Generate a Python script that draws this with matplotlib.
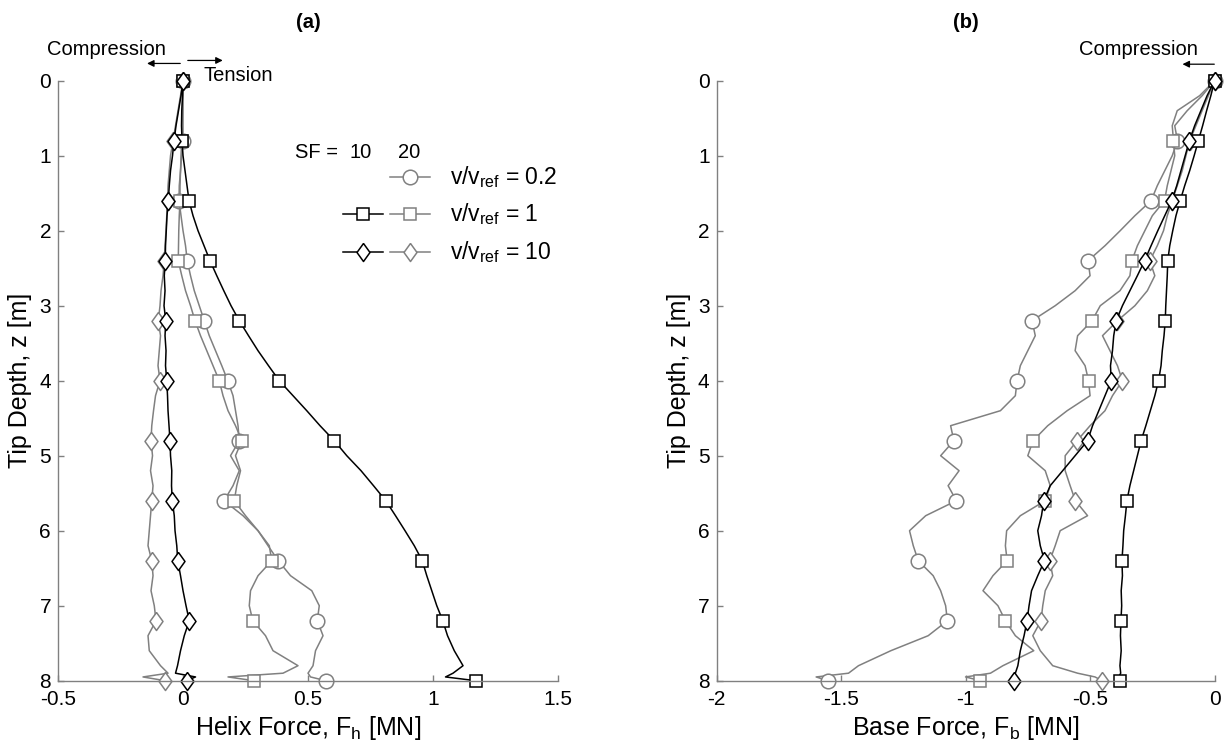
import numpy as np
import matplotlib
matplotlib.use("Agg")
import matplotlib.pyplot as plt

plt.rcParams["font.family"] = ["Liberation Sans", "DejaVu Sans"]
plt.rcParams["mathtext.fontset"] = "custom"
plt.rcParams["mathtext.rm"] = "Liberation Sans"
plt.rcParams["mathtext.it"] = "Liberation Sans:italic"
plt.rcParams["axes.unicode_minus"] = False

# tip depth grid [m] (finer at the very end of installation)
depth = np.concatenate([np.round(np.arange(0, 7.81, 0.2), 2), [7.9, 7.95, 8.0]])
mark_idx = list(range(0, 40, 4)) + [42]

# (a) helix force [MN]
a_sf10_v1 = [0.000, -0.002, -0.005, -0.006, -0.004, 0.000, 0.008, 0.016, 0.024, 0.040,
             0.060, 0.084, 0.108, 0.135, 0.163, 0.192, 0.225, 0.262, 0.300, 0.342,
             0.385, 0.440, 0.495, 0.548, 0.605, 0.655, 0.712, 0.762, 0.811, 0.850,
             0.888, 0.925, 0.957, 0.975, 0.995, 1.015, 1.039, 1.058, 1.085, 1.120,
             1.080, 1.050, 1.171]
a_sf10_v10 = [0.000, -0.008, -0.018, -0.028, -0.036, -0.042, -0.050, -0.055, -0.059, -0.064,
              -0.067, -0.070, -0.071, -0.075, -0.072, -0.076, -0.069, -0.072, -0.068, -0.070,
              -0.065, -0.062, -0.060, -0.056, -0.052, -0.050, -0.045, -0.046, -0.043, -0.035,
              -0.032, -0.025, -0.021, -0.010, 0.000, 0.012, 0.025, 0.005, -0.010, -0.022,
              -0.030, 0.050, 0.015]
a_sf20_v02 = [0.000, 0.000, 0.000, 0.000, 0.000, -0.005, -0.010, -0.015, -0.016, -0.008,
              0.000, 0.010, 0.017, 0.030, 0.045, 0.065, 0.085, 0.105, 0.130, 0.155,
              0.179, 0.200, 0.210, 0.220, 0.225, 0.190, 0.225, 0.200, 0.164, 0.240,
              0.300, 0.340, 0.381, 0.430, 0.515, 0.545, 0.537, 0.560, 0.530, 0.520,
              0.500, 0.510, 0.571]
a_sf20_v1 = [0.000, 0.000, -0.002, -0.004, -0.005, -0.008, -0.010, -0.012, -0.012, -0.015,
             -0.017, -0.018, -0.019, -0.005, 0.010, 0.030, 0.048, 0.070, 0.095, 0.120,
             0.145, 0.160, 0.180, 0.210, 0.235, 0.210, 0.230, 0.215, 0.205, 0.250,
             0.300, 0.345, 0.355, 0.300, 0.270, 0.265, 0.279, 0.330, 0.360, 0.460,
             0.400, 0.180, 0.284]
a_sf20_v10 = [0.000, -0.010, -0.020, -0.030, -0.040, -0.050, -0.055, -0.060, -0.062, -0.065,
              -0.068, -0.072, -0.075, -0.080, -0.088, -0.092, -0.099, -0.090, -0.095, -0.100,
              -0.092, -0.110, -0.118, -0.125, -0.128, -0.122, -0.130, -0.120, -0.125, -0.130,
              -0.135, -0.140, -0.125, -0.120, -0.128, -0.115, -0.108, -0.140, -0.135, -0.090,
              -0.060, -0.160, -0.072]

# (b) base force [MN]
b_sf10_v1 = [0.000, -0.015, -0.032, -0.048, -0.065, -0.082, -0.100, -0.120, -0.138, -0.155,
             -0.168, -0.180, -0.188, -0.190, -0.193, -0.196, -0.198, -0.203, -0.210, -0.215,
             -0.225, -0.240, -0.258, -0.276, -0.295, -0.310, -0.325, -0.340, -0.352, -0.358,
             -0.365, -0.368, -0.372, -0.370, -0.375, -0.373, -0.376, -0.378, -0.375, -0.380,
             -0.377, -0.385, -0.379]
b_sf10_v10 = [0.000, -0.030, -0.055, -0.080, -0.101, -0.118, -0.135, -0.152, -0.172, -0.200,
              -0.228, -0.255, -0.281, -0.310, -0.340, -0.370, -0.395, -0.405, -0.410, -0.418,
              -0.415, -0.440, -0.465, -0.490, -0.510, -0.560, -0.610, -0.660, -0.686, -0.695,
              -0.710, -0.700, -0.683, -0.710, -0.735, -0.745, -0.753, -0.765, -0.780, -0.790,
              -0.800, -0.815, -0.804]
b_sf20_v02 = [0.000, -0.050, -0.110, -0.160, -0.149, -0.170, -0.200, -0.230, -0.255, -0.320,
              -0.379, -0.440, -0.508, -0.500, -0.560, -0.640, -0.733, -0.720, -0.750, -0.780,
              -0.793, -0.800, -0.860, -1.060, -1.047, -1.100, -1.026, -1.070, -1.037, -1.160,
              -1.225, -1.210, -1.190, -1.130, -1.100, -1.080, -1.073, -1.150, -1.300, -1.430,
              -1.470, -1.600, -1.554]
b_sf20_v1 = [0.000, -0.060, -0.150, -0.170, -0.165, -0.160, -0.175, -0.190, -0.201, -0.250,
             -0.280, -0.310, -0.332, -0.340, -0.380, -0.459, -0.492, -0.550, -0.560, -0.520,
             -0.506, -0.500, -0.592, -0.670, -0.729, -0.750, -0.680, -0.660, -0.680, -0.780,
             -0.835, -0.840, -0.833, -0.890, -0.930, -0.870, -0.840, -0.800, -0.726, -0.850,
             -0.900, -1.000, -0.940]
b_sf20_v10 = [0.000, -0.025, -0.050, -0.075, -0.100, -0.115, -0.130, -0.150, -0.170, -0.190,
              -0.205, -0.230, -0.260, -0.240, -0.270, -0.320, -0.390, -0.450, -0.420, -0.390,
              -0.370, -0.410, -0.440, -0.500, -0.552, -0.600, -0.600, -0.580, -0.559, -0.510,
              -0.620, -0.640, -0.662, -0.650, -0.680, -0.690, -0.697, -0.730, -0.700, -0.650,
              -0.550, -0.480, -0.452]

speed_labels = ["0.2", "1", "10"]

GRAY = "#808080"
DIAMOND = [(0, 1), (0.72, 0), (0, -1), (-0.72, 0), (0, 1)]
MSIZE = {"o": 10.5, "s": 9, "d": 13}


def style(marker, color):
    m = DIAMOND if marker == "d" else marker
    return dict(color=color, lw=1.1, marker=m, ms=MSIZE[marker], mfc="white",
                mec=color, mew=1.1)


def draw(ax, v02, v1_10, v1_20, v10_10, v10_20):
    # SF = 20 in grey first, SF = 10 in black on top
    ax.plot(v02, depth, markevery=mark_idx, clip_on=False, **style("o", GRAY))
    ax.plot(v1_20, depth, markevery=mark_idx, clip_on=False, **style("s", GRAY))
    ax.plot(v10_20, depth, markevery=mark_idx, clip_on=False, **style("d", GRAY))
    ax.plot(v1_10, depth, markevery=mark_idx, clip_on=False, **style("s", "k"))
    ax.plot(v10_10, depth, markevery=mark_idx, clip_on=False, **style("d", "k"))


def dress(ax, xticks, xlabel, title):
    ax.set_ylim(8, 0)
    ax.set_xlim(xticks[0], xticks[-1])
    ax.set_xticks(xticks)
    ax.set_xticklabels([f"{t:g}" for t in xticks])
    ax.set_yticks(range(9))
    for s in ["top", "right"]:
        ax.spines[s].set_visible(False)
    for s in ["left", "bottom"]:
        ax.spines[s].set_color(GRAY)
        ax.spines[s].set_linewidth(1.0)
    ax.tick_params(direction="in", length=4, width=1.0, color=GRAY,
                   labelsize=15, labelcolor="k")
    ax.tick_params(axis="y", pad=5)
    ax.tick_params(axis="x", pad=7)
    ax.set_xlabel(xlabel, fontsize=18, labelpad=3)
    ax.set_ylabel("Tip Depth, z [m]", fontsize=18, labelpad=5)
    ax.set_title(title, fontsize=14.5, fontweight="bold", pad=38)


fig = plt.figure(figsize=(12.24, 7.5), dpi=100)
ax_a = fig.add_axes([0.0474, 0.0924, 0.4085, 0.80])
ax_b = fig.add_axes([0.5854, 0.0924, 0.4069, 0.80])

draw(ax_a, a_sf20_v02, a_sf10_v1, a_sf20_v1, a_sf10_v10, a_sf20_v10)
draw(ax_b, b_sf20_v02, b_sf10_v1, b_sf20_v1, b_sf10_v10, b_sf20_v10)

dress(ax_a, [-0.5, 0, 0.5, 1, 1.5], r"Helix Force, F$_\mathrm{h}$ [MN]", "(a)")
dress(ax_b, [-2, -1.5, -1, -0.5, 0], r"Base Force, F$_\mathrm{b}$ [MN]", "(b)")

# compression / tension arrows
arrow = dict(arrowstyle="-|>", color="k", lw=0.9, mutation_scale=10)
ax_a.annotate("", xy=(-0.155, -0.23), xytext=(0.0, -0.23), arrowprops=arrow,
              annotation_clip=False)
ax_a.annotate("", xy=(0.17, -0.27), xytext=(0.008, -0.27), arrowprops=arrow,
              annotation_clip=False)
ax_a.text(-0.308, -0.42, "Compression", fontsize=14.5, ha="center", va="center")
ax_a.text(0.08, -0.07, "Tension", fontsize=14.5, ha="left", va="center")
ax_b.annotate("", xy=(-0.14, -0.22), xytext=(0.01, -0.22), arrowprops=arrow,
              annotation_clip=False)
ax_b.text(-0.307, -0.42, "Compression", fontsize=14.5, ha="center", va="center")

# legend key, laid out as in the original figure
tr = ax_a.transAxes
ax_a.text(0.474, 0.8795, "SF =", fontsize=14.5, ha="left", va="center", transform=tr)
ax_a.text(0.606, 0.8795, "10", fontsize=14.5, ha="center", va="center", transform=tr)
ax_a.text(0.703, 0.8795, "20", fontsize=14.5, ha="center", va="center", transform=tr)
rows_y = [0.840, 0.777, 0.715]
keys = [(None, "o"), ("s", "s"), ("d", "d")]
for y, (mk_black, mk_gray), lab in zip(rows_y, keys, speed_labels):
    if mk_black is not None:
        ax_a.plot([0.57, 0.61, 0.65], [y, y, y], transform=tr, clip_on=False,
                  markevery=[1], **style(mk_black, "k"))
    ax_a.plot([0.664, 0.704, 0.744], [y, y, y], transform=tr, clip_on=False,
              markevery=[1], **style(mk_gray, GRAY))
    ax_a.text(0.784, y, r"v/v$_\mathrm{ref}$ = " + lab, fontsize=16.5, ha="left",
              va="center", transform=tr)

fig.savefig("out.png", dpi=100)
